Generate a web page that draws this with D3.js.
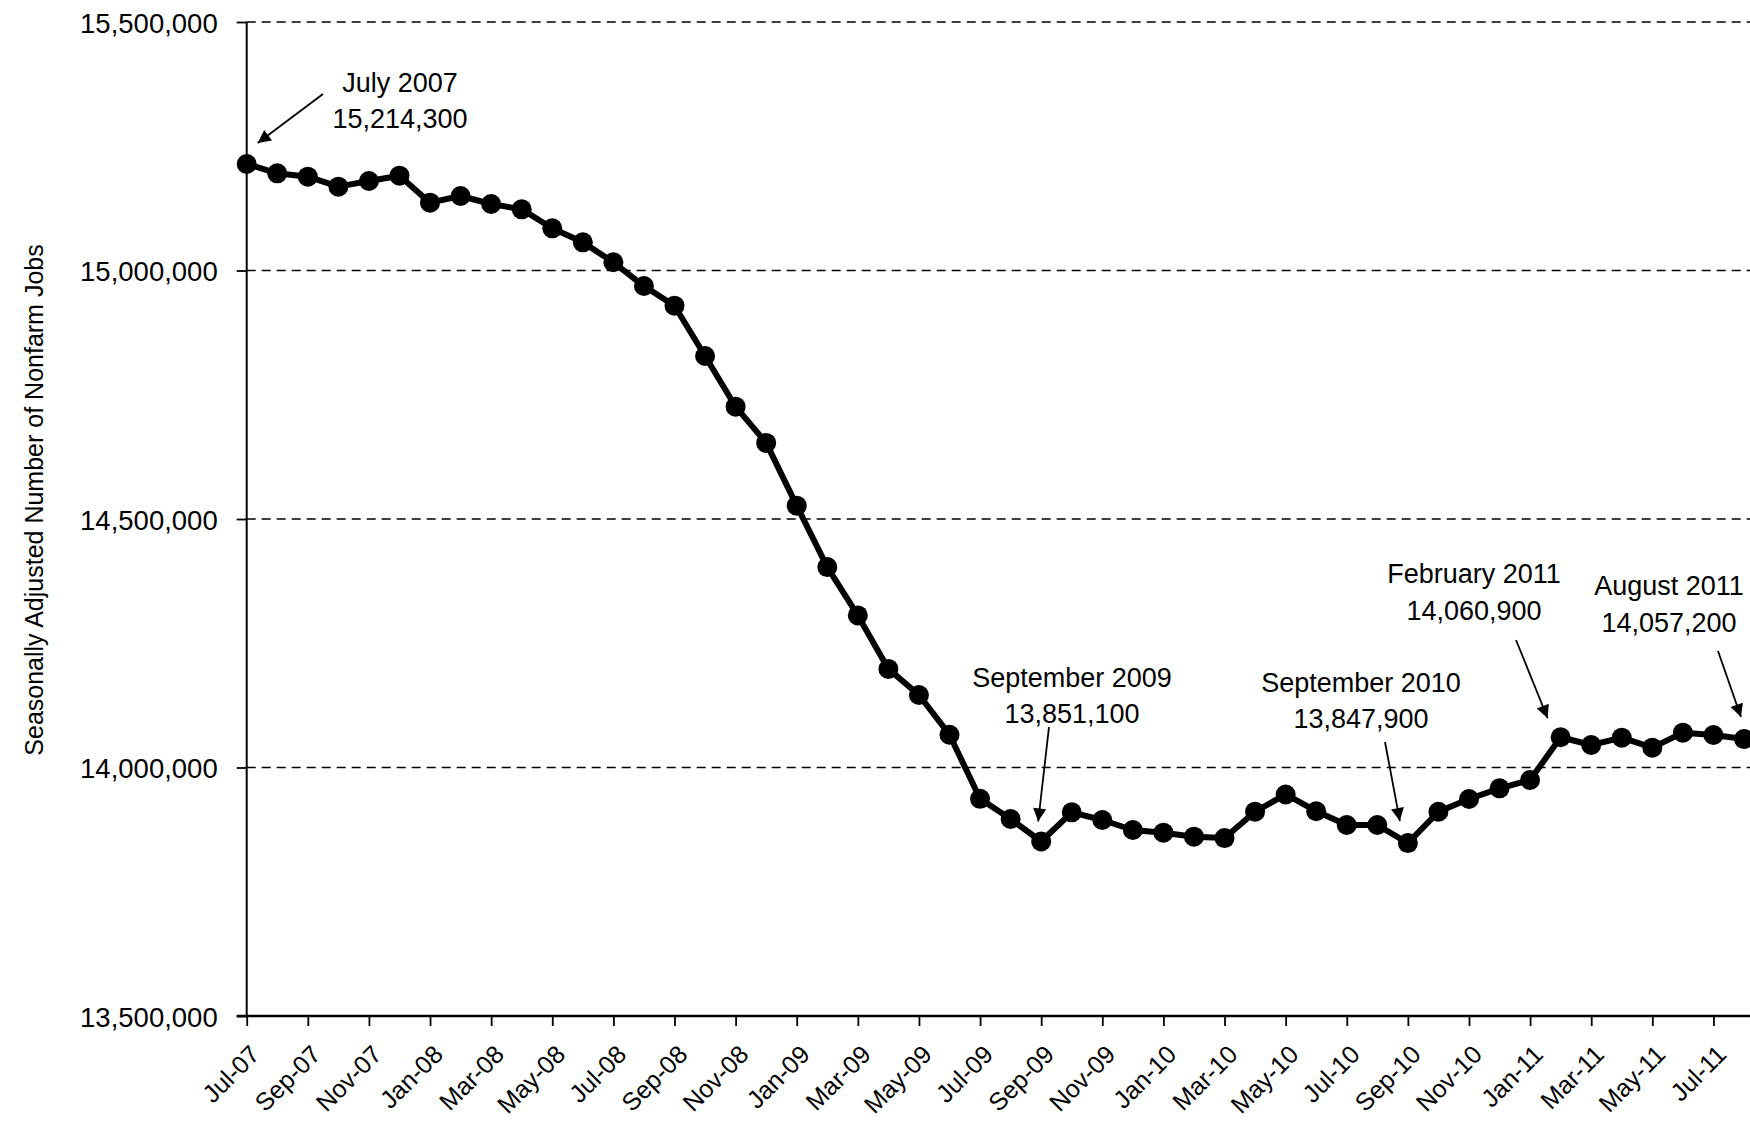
<!DOCTYPE html>
<html>
<head>
<meta charset="utf-8">
<script src="https://cdn.jsdelivr.net/npm/d3@7"></script>
<style>
  html, body { margin: 0; padding: 0; background: #fff; }
  svg { display: block; }
  text { font-family: "Liberation Sans", Arial, sans-serif; fill: #000; }
</style>
</head>
<body>
<svg id="chart" width="1750" height="1122"></svg>
<script>
// ---------------- data ----------------
const months = [
  "Jul-07","Aug-07","Sep-07","Oct-07","Nov-07","Dec-07",
  "Jan-08","Feb-08","Mar-08","Apr-08","May-08","Jun-08","Jul-08","Aug-08","Sep-08","Oct-08","Nov-08","Dec-08",
  "Jan-09","Feb-09","Mar-09","Apr-09","May-09","Jun-09","Jul-09","Aug-09","Sep-09","Oct-09","Nov-09","Dec-09",
  "Jan-10","Feb-10","Mar-10","Apr-10","May-10","Jun-10","Jul-10","Aug-10","Sep-10","Oct-10","Nov-10","Dec-10",
  "Jan-11","Feb-11","Mar-11","Apr-11","May-11","Jun-11","Jul-11","Aug-11"
];
const jobs = [
  15214300, 15195500, 15188800, 15168700, 15180100, 15190800,
  15136500, 15149900, 15133800, 15123100, 15084900, 15056700, 15016500, 14968800, 14929200, 14828000, 14726000, 14653100,
  14526800, 14403200, 14306000, 14198400, 14145900, 14066000, 13937000, 13896400, 13851100, 13909800, 13894400, 13874200,
  13868900, 13860800, 13858000, 13911100, 13945700, 13912000, 13884300, 13884300, 13847900, 13911000, 13936600, 13958100,
  13974800, 14060900, 14045300, 14060000, 14039900, 14070100, 14065400, 14057200
];
const xTickLabels = months.filter((m, i) => i % 2 === 0);
const yTickValues = [13500000, 14000000, 14500000, 15000000, 15500000];
const yAxisTitle = "Seasonally Adjusted Number of Nonfarm Jobs";
const annotationMonths = ["Jul-07", "Sep-09", "Sep-10", "Feb-11", "Aug-11"];
const annotationTitles = ["July 2007", "September 2009", "September 2010", "February 2011", "August 2011"];
const annotationValues = ["15,214,300", "13,851,100", "13,847,900", "14,060,900", "14,057,200"];

// ---------------- layout ----------------
const annotationLayout = [
  { tx: 400,  ty: 91.7,  sx: 323,  sy: 94,  dx: 11,  dy: -21 },
  { tx: 1072, ty: 686.7, sx: 1049, sy: 727, dx: -3,  dy: -20 },
  { tx: 1361, ty: 691.7, sx: 1385, sy: 742, dx: -8,  dy: -22 },
  { tx: 1474, ty: 583.3, sx: 1516, sy: 640, dx: -13, dy: -19 },
  { tx: 1669, ty: 595,   sx: 1718, sy: 651, dx: -3,  dy: -22 }
];

const svg = d3.select("#chart");
const W = 1750;
const x = d3.scalePoint().domain(months).range([246.7, 1744]);
const y = d3.scaleLinear().domain([13500000, 15500000]).range([1016, 22]);
const xLeft = x(months[0]);

// defs: arrowhead
svg.append("defs").append("marker")
  .attr("id", "arrow")
  .attr("viewBox", "0 0 10 10")
  .attr("refX", 10).attr("refY", 5)
  .attr("markerUnits", "userSpaceOnUse")
  .attr("markerWidth", 17).attr("markerHeight", 13)
  .attr("orient", "auto")
  .append("path").attr("d", "M0,0 L10,5 L0,10 Z").attr("fill", "#000");

// gridlines
svg.append("g").selectAll("line")
  .data(yTickValues.filter(v => v > 13500000))
  .join("line")
  .attr("x1", xLeft).attr("x2", W)
  .attr("y1", d => y(d)).attr("y2", d => y(d))
  .attr("stroke", "#000").attr("stroke-width", 1.6)
  .attr("stroke-dasharray", "9,6");

// y axis
const yAxis = svg.append("g")
  .attr("transform", `translate(${xLeft},0)`)
  .call(d3.axisLeft(y).tickValues(yTickValues).tickFormat(d3.format(",")).tickSize(10).tickSizeOuter(0));
yAxis.select(".domain").remove();
yAxis.selectAll(".tick line").attr("stroke", "#000").attr("stroke-width", 1.8);
yAxis.selectAll(".tick text")
  .attr("x", -29).attr("dy", null).attr("y", 10)
  .style("font-size", "27.5px").style("font-family", '"Liberation Sans", Arial, sans-serif');
svg.append("line")
  .attr("x1", xLeft).attr("x2", xLeft)
  .attr("y1", y(15500000)).attr("y2", y(13500000))
  .attr("stroke", "#000").attr("stroke-width", 2);

// x axis
const xAxis = svg.append("g")
  .attr("transform", `translate(0,${y(13500000)})`)
  .call(d3.axisBottom(x).tickValues(xTickLabels).tickSize(10).tickSizeOuter(0));
xAxis.select(".domain").remove();
xAxis.selectAll(".tick line").attr("stroke", "#000").attr("stroke-width", 1.8);
xAxis.selectAll(".tick text")
  .attr("text-anchor", "end")
  .attr("dy", null)
  .attr("x", 0).attr("y", 0)
  .attr("transform", "translate(14,40) rotate(-45)")
  .style("font-size", "25px").style("font-family", '"Liberation Sans", Arial, sans-serif');
svg.append("line")
  .attr("x1", xLeft - 10).attr("x2", W)
  .attr("y1", y(13500000)).attr("y2", y(13500000))
  .attr("stroke", "#000").attr("stroke-width", 2.4);

// y axis title
svg.append("text")
  .attr("transform", `translate(42.5,${(y(15500000) + y(13500000)) / 2 - 19}) rotate(-90)`)
  .attr("text-anchor", "middle")
  .style("font-size", "25px")
  .text(yAxisTitle);

// line
const line = d3.line().x((d, i) => x(months[i])).y(d => y(d));
svg.append("path")
  .datum(jobs)
  .attr("d", line)
  .attr("fill", "none")
  .attr("stroke", "#000")
  .attr("stroke-width", 6)
  .attr("stroke-linejoin", "round");

svg.append("g").selectAll("circle")
  .data(jobs)
  .join("circle")
  .attr("cx", (d, i) => x(months[i]))
  .attr("cy", d => y(d))
  .attr("r", 10)
  .attr("fill", "#000");

// annotations
const ann = svg.append("g");
annotationMonths.forEach((m, k) => {
  const L = annotationLayout[k];
  const idx = months.indexOf(m);
  const px = x(m), py = y(jobs[idx]);
  ann.append("text").attr("x", L.tx).attr("y", L.ty)
    .attr("text-anchor", "middle").style("font-size", "27px")
    .text(annotationTitles[k]);
  ann.append("text").attr("x", L.tx).attr("y", L.ty + 36.6)
    .attr("text-anchor", "middle").style("font-size", "27px")
    .text(annotationValues[k]);
  ann.append("line")
    .attr("x1", L.sx).attr("y1", L.sy)
    .attr("x2", px + L.dx).attr("y2", py + L.dy)
    .attr("stroke", "#000").attr("stroke-width", 1.8)
    .attr("marker-end", "url(#arrow)");
});
</script>
</body>
</html>
